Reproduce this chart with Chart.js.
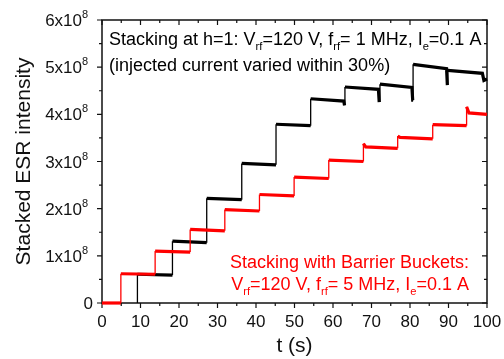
<!DOCTYPE html>
<html>
<head>
<meta charset="utf-8">
<script src="https://cdn.jsdelivr.net/npm/chart.js@4"></script>
<style>
  html, body { margin: 0; padding: 0; background: #fff; }
  #wrap { width: 504px; height: 359px; }
</style>
</head>
<body>
<div id="wrap"><canvas id="esr"></canvas></div>
<script>
// values in units of 1e8
const blackT = [9.2, 9.2, 18.3, 18.3, 27.2, 27.2, 36.3, 36.3, 45.2, 45.2, 54.2, 54.2, 62.8, 63.0, 63.1, 63.1, 71.8, 72.0, 72.2, 72.2, 80.5, 80.7, 80.8, 80.8, 89.5, 89.7, 89.8, 89.8, 98.8, 99.2, 100];
const blackV = [0, 0.61, 0.59, 1.31, 1.28, 2.22, 2.19, 2.96, 2.93, 3.79, 3.76, 4.33, 4.28, 4.19, 4.19, 4.58, 4.53, 4.26, 4.26, 4.64, 4.57, 4.30, 4.30, 5.06, 4.97, 4.62, 4.62, 4.93, 4.87, 4.72, 4.75];

const redT = [0, 4.9, 4.9, 13.8, 13.8, 22.9, 22.9, 31.9, 31.9, 40.9, 40.9, 49.9, 49.9, 58.9, 58.9, 67.9, 67.9, 68.5, 76.8, 76.8, 77.4, 85.9, 85.9, 94.7, 94.7, 95.3, 100];
const redV = [0, 0, 0.62, 0.61, 1.10, 1.08, 1.56, 1.53, 1.98, 1.95, 2.30, 2.27, 2.67, 2.64, 3.03, 3.00, 3.38, 3.31, 3.28, 3.54, 3.51, 3.48, 3.78, 3.76, 4.16, 4.03, 4.00];

const xTicks = [0, 10, 20, 30, 40, 50, 60, 70, 80, 90, 100];
const yTicks = [0, 1, 2, 3, 4, 5, 6];

const FONT = "'Liberation Sans', Arial, sans-serif";

function pts(xs, ys) {
  return xs.map((x, i) => ({ x: x, y: ys[i] }));
}

// vertical jumps are thin, noisy flat parts look thicker
function segWidth(ctx) {
  return ctx.p0.parsed.x === ctx.p1.parsed.x ? 1.3 : 3.2;
}

// draw text made of pieces, some of them subscripts
function richText(ctx, parts, x, y, size, align) {
  const sub = size * 0.62;
  let w = 0;
  parts.forEach((p) => {
    ctx.font = (p.sub ? sub : size) + "px " + FONT;
    w += ctx.measureText(p.t).width;
  });
  let cx = align === "right" ? x - w : x;
  ctx.textAlign = "left";
  parts.forEach((p) => {
    ctx.font = (p.sub ? sub : size) + "px " + FONT;
    ctx.fillText(p.t, cx, p.sub ? y + size * 0.3 : y);
    cx += ctx.measureText(p.t).width;
  });
}

const framePlugin = {
  id: "frame",
  beforeDatasetsDraw(chart) {
    const ctx = chart.ctx;
    const a = chart.chartArea;
    const xs = chart.scales.x;
    const ys = chart.scales.y;
    ctx.save();
    ctx.strokeStyle = "#111";
    ctx.fillStyle = "#111";
    ctx.lineWidth = 1.5;
    ctx.strokeRect(a.left, a.top, a.right - a.left, a.bottom - a.top);

    ctx.lineWidth = 1.2;
    ctx.beginPath();
    xs.ticks.forEach((t) => {
      const px = xs.getPixelForValue(t.value);
      const len = t.value % 10 === 0 ? 5 : 3;
      ctx.moveTo(px, a.bottom); ctx.lineTo(px, a.bottom + len);
      ctx.moveTo(px, a.top); ctx.lineTo(px, a.top + len);
    });
    ys.ticks.forEach((t) => {
      const py = ys.getPixelForValue(t.value);
      const len = Math.abs(t.value - Math.round(t.value)) < 1e-6 ? 5 : 3;
      ctx.moveTo(a.left, py); ctx.lineTo(a.left - len, py);
      ctx.moveTo(a.right, py); ctx.lineTo(a.right - len, py);
    });
    ctx.stroke();

    // tick labels
    ctx.font = "17px " + FONT;
    ctx.textAlign = "center";
    ctx.textBaseline = "alphabetic";
    xTicks.forEach((v) => {
      ctx.fillText(String(v), xs.getPixelForValue(v), a.bottom + 24);
    });
    ctx.textAlign = "right";
    yTicks.forEach((v) => {
      const py = ys.getPixelForValue(v);
      if (v === 0) {
        ctx.font = "17px " + FONT;
        ctx.fillText("0", a.left - 9, py + 6);
        return;
      }
      ctx.font = "11px " + FONT;
      ctx.textAlign = "left";
      ctx.fillText("8", a.left - 20, py - 2);
      ctx.font = "17px " + FONT;
      ctx.textAlign = "right";
      ctx.fillText(v + "x10", a.left - 20, py + 6);
    });

    // axis titles
    ctx.font = "21px " + FONT;
    ctx.textAlign = "center";
    ctx.fillText("t (s)", (a.left + a.right) / 2, 352);
    ctx.save();
    ctx.translate(30, (a.top + a.bottom) / 2);
    ctx.rotate(-Math.PI / 2);
    ctx.fillText("Stacked ESR intensity", 0, 0);
    ctx.restore();
    ctx.restore();
  },
  afterDraw(chart) {
    const ctx = chart.ctx;
    ctx.save();
    ctx.textBaseline = "alphabetic";
    ctx.fillStyle = "#000";
    richText(ctx, [
      { t: "Stacking at h=1: V" }, { t: "rf", sub: true },
      { t: "=120 V, f" }, { t: "rf", sub: true },
      { t: "= 1 MHz, I" }, { t: "e", sub: true }, { t: "=0.1 A" }
    ], 109, 45, 18, "left");
    richText(ctx, [{ t: "(injected current varied within 30%)" }], 109, 71, 18, "left");

    ctx.fillStyle = "#ff0000";
    richText(ctx, [{ t: "Stacking with Barrier Buckets:" }], 469, 268, 18, "right");
    richText(ctx, [
      { t: "V" }, { t: "rf", sub: true }, { t: "=120 V, f" }, { t: "rf", sub: true },
      { t: "= 5 MHz, I" }, { t: "e", sub: true }, { t: "=0.1 A" }
    ], 469, 290, 18, "right");
    ctx.restore();
  }
};

new Chart(document.getElementById("esr"), {
  type: "line",
  data: {
    datasets: [
      {
        label: "Barrier Buckets",
        data: pts(redT, redV),
        borderColor: "#ff0000",
        borderWidth: 3.2,
        pointRadius: 0,
        tension: 0,
        clip: 5,
        segment: { borderWidth: segWidth },
      },
      {
        label: "h=1",
        data: pts(blackT, blackV),
        borderColor: "#000",
        borderWidth: 3.2,
        pointRadius: 0,
        tension: 0,
        clip: 5,
        segment: { borderWidth: segWidth },
      },
    ],
  },
  options: {
    responsive: true,
    maintainAspectRatio: false,
    animation: false,
    events: [],
    layout: { padding: { left: 102, right: 17, top: 20, bottom: 56 } },
    plugins: { legend: { display: false }, tooltip: { enabled: false } },
    scales: {
      x: {
        type: "linear",
        min: 0,
        max: 100,
        ticks: { display: false, stepSize: 5 },
        grid: { display: false, drawTicks: false },
        border: { display: false },
      },
      y: {
        min: 0,
        max: 6,
        ticks: { display: false, stepSize: 0.5 },
        grid: { display: false, drawTicks: false },
        border: { display: false },
      },
    },
  },
  plugins: [framePlugin],
});
</script>
</body>
</html>
